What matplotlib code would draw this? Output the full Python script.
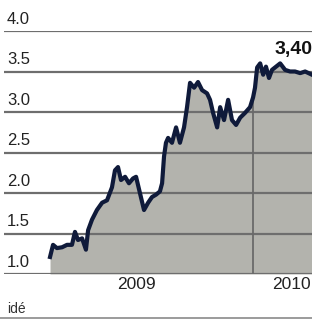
import numpy as np
import matplotlib
matplotlib.use("Agg")
import matplotlib.pyplot as plt

# price in kr, time as fractional year
t = [2009.056, 2009.070, 2009.088, 2009.112, 2009.135, 2009.158, 2009.172, 2009.186,
     2009.205, 2009.223, 2009.233, 2009.251, 2009.274, 2009.298, 2009.321, 2009.344,
     2009.358, 2009.372, 2009.386, 2009.405, 2009.423, 2009.442, 2009.456, 2009.474,
     2009.493, 2009.512, 2009.530, 2009.549, 2009.567, 2009.577, 2009.586, 2009.595,
     2009.605, 2009.623, 2009.642, 2009.660, 2009.679, 2009.693, 2009.707, 2009.726,
     2009.744, 2009.763, 2009.786, 2009.800, 2009.814, 2009.833, 2009.847, 2009.865,
     2009.884, 2009.902, 2009.921, 2009.940, 2009.963, 2009.986, 2010.000, 2010.009,
     2010.019, 2010.033, 2010.047, 2010.060, 2010.074, 2010.088, 2010.107, 2010.126,
     2010.149, 2010.172, 2010.195, 2010.219, 2010.242, 2010.274]
price = [1.21, 1.36, 1.32, 1.33, 1.36, 1.36, 1.52, 1.42,
         1.44, 1.30, 1.54, 1.67, 1.79, 1.88, 1.91, 2.07,
         2.28, 2.32, 2.16, 2.20, 2.12, 2.18, 2.20, 2.00,
         1.79, 1.88, 1.95, 1.98, 2.02, 2.12, 2.45, 2.62,
         2.68, 2.62, 2.81, 2.62, 2.81, 3.06, 3.36, 3.30,
         3.37, 3.27, 3.23, 3.15, 2.99, 2.81, 3.06, 2.90,
         3.15, 2.90, 2.84, 2.93, 2.99, 3.06, 3.18, 3.30,
         3.55, 3.60, 3.46, 3.56, 3.42, 3.52, 3.56, 3.60,
         3.52, 3.50, 3.50, 3.48, 3.50, 3.46]
yticks = [1.0, 1.5, 2.0, 2.5, 3.0, 3.5, 4.0]
year_ticks = [2009.46, 2010.18]
year_labels = ["2009", "2010"]
last_label = "3,40"

plt.rcParams['font.family'] = ['Liberation Sans', 'DejaVu Sans']

fig = plt.figure(figsize=(3.12, 3.2), dpi=100)
ax = fig.add_axes([4 / 312, 46 / 320, 308 / 312, 243 / 320])
ax.set_xlim(2008.842, 2010.274)
ax.set_ylim(1.0, 4.0)
ax.axis('off')

fill = ax.fill_between(t, price, 1.0, color='#b3b3ad', lw=0, zorder=1)

# grid lines with labels sitting on top of them
for y in yticks:
    ax.axhline(y, color='#6e6e6e', lw=1.6, zorder=2)
    ax.text(0.01, y + 0.05, f"{y:.1f}", transform=ax.get_yaxis_transform(),
            fontsize=12, color='#222222', va='bottom', ha='left')

# year divider only visible inside the area
vl = ax.axvline(2010.0, color='#6a6a6a', lw=1.3, zorder=2)
vl.set_clip_path(fill.get_paths()[0], ax.transData)

ax.plot(t, price, color='#0f1a3a', lw=3.0, zorder=3, solid_joinstyle='round')

for x, lab in zip(year_ticks, year_labels):
    ax.text(x, 0.965, lab, transform=ax.transData, fontsize=12.5, color='#222222',
            ha='center', va='top')

ax.text(2010.098, 3.67, last_label, fontsize=14, fontweight='bold',
        color='#111111', ha='left', va='bottom', clip_on=False)

fig.text(7 / 312, 1 - 313 / 320, "idé", fontsize=10, color='#333333',
         ha='left', va='baseline')
fig.add_artist(plt.Line2D([0, 1], [1 - 318 / 320] * 2, color='#8a8a8a', lw=1.2))

fig.savefig("out.png", dpi=100)
